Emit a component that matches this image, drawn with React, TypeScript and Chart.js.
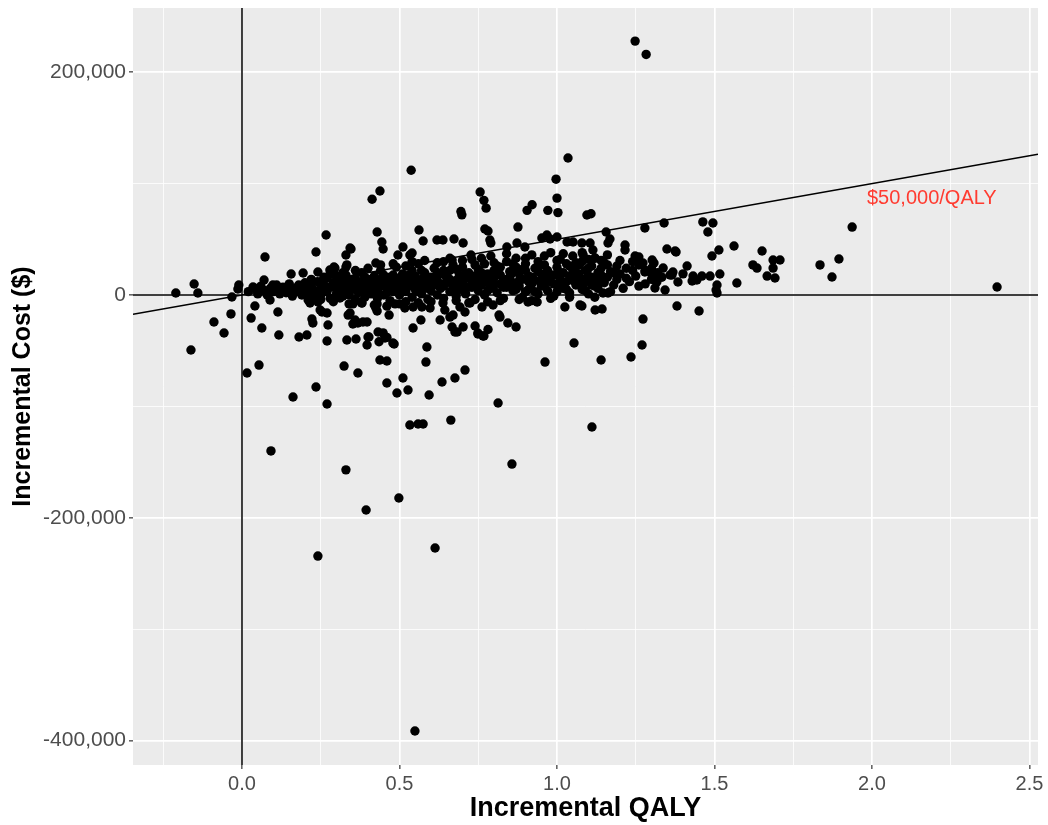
import { useEffect, useRef } from 'react';
import { Chart, registerables } from 'chart.js';

Chart.register(...registerables);

// Axis ranges and ticks
const X_MIN = -0.346;
const X_MAX = 2.527;
const Y_MIN = -422000;
const Y_MAX = 257700;
const xGridTicks = [-0.25, 0, 0.25, 0.5, 0.75, 1, 1.25, 1.5, 1.75, 2, 2.25, 2.5];
const xLabelTicks = [0, 0.5, 1, 1.5, 2, 2.5];
const yGridTicks = [-400000, -300000, -200000, -100000, 0, 100000, 200000];
const yLabelTicks = [-400000, -200000, 0, 200000];

// Willingness-to-pay threshold ($ per QALY) and its label
const WTP = 50000;
const wtpLabelText = '$50,000/QALY';
const wtpLabelQaly = 2.19;
const wtpLabelCost = 87000;

// Simulation draws: [incremental QALY, incremental cost in $1000]
const leftPoints_k: number[][] = [
  [-0.21, 1.8], [-0.152, 9.9], [-0.14, 1.8], [-0.032, -1.8], [-0.01, 9], [-0.013, 5.4],
  [-0.089, -24.2], [-0.057, -34.1], [-0.035, -17], [-0.162, -49.4], [0.041, -9.9],
  [0.029, -20.7], [0.063, -29.6], [0.114, -15.3], [0.073, 34.1], [0.07, 13.5],
  [0.016, -70], [0.054, -62.9], [0.092, -140], [0.117, -35.9], [0.035, 7.2], [0.098, 9],
  [0.089, -4.5],
];

const upperPoints_k: number[][] = [
  [0.156, 18.9], [0.194, 19.8], [0.235, 38.6], [0.267, 53.9], [0.279, 22.4], [0.292, 25.1],
  [0.33, 25.1], [0.33, 35.9], [0.346, 41.3], [0.413, 86], [0.438, 93.4], [0.429, 56.6],
  [0.444, 47.6], [0.448, 41.3], [0.425, 28.7], [0.537, 112], [0.511, 43.1], [0.54, 37.7],
  [0.562, 58.4], [0.575, 48.5], [0.619, 49.4], [0.638, 49.4], [0.673, 50.3], [0.702, 46.7],
  [0.695, 75], [0.698, 72], [0.727, 35.9], [0.667, 31.4], [0.756, 92.5], [0.768, 85],
  [0.775, 78], [0.771, 59.3], [0.781, 57.5], [0.787, 49.4], [0.79, 46.7], [0.841, 43.1],
  [0.873, 46.7], [0.876, 61], [0.898, 43.1], [0.905, 76], [0.921, 81], [0.952, 51.2],
  [0.968, 53.9], [0.971, 76], [0.978, 50.3], [0.997, 104], [1.0, 87], [1.0, 52.1],
  [1.003, 74], [1.035, 123], [1.032, 47.6], [1.051, 47.6], [1.079, 46.7], [1.095, 71.8],
  [1.108, 73], [1.156, 56.6], [1.168, 50.3], [1.162, 46.7], [1.216, 44.9], [1.216, 40.4],
  [1.248, 228], [1.283, 216], [1.279, 60.2], [1.34, 64.7], [1.349, 41.3], [1.378, 38.6],
  [1.083, 36], [1.105, 46.7], [1.114, 40.4], [1.121, 33.2], [1.248, 35], [1.26, 34.1],
  [1.302, 31.4], [1.308, 28.7], [1.337, 24.2], [1.273, 28.7], [0.241, 20.7], [0.295, 24.2],
  [0.333, 27], [0.343, 42.2], [0.495, 35.9], [0.533, 35.9],
];

const rightPoints_k: number[][] = [
  [1.463, 65.6], [1.495, 64.7], [1.479, 56.6], [1.937, 61], [1.562, 44], [1.514, 40.4],
  [1.492, 35], [1.651, 39.5], [1.375, 39.5], [1.413, 26], [1.622, 27], [1.635, 24.2],
  [1.686, 31.4], [1.708, 31.4], [1.686, 24.2], [1.835, 27], [1.895, 32.3], [1.873, 16.2],
  [1.667, 17], [1.692, 15.3], [1.571, 10.8], [1.508, 9], [1.508, 1.8], [1.505, 4.5],
  [1.517, 18.9], [1.486, 17], [1.46, 17], [1.432, 17], [1.444, 13.5], [1.429, 12.6],
  [1.384, 11.7], [1.365, 18], [1.368, 20.7], [2.397, 7.2], [1.381, -9.9], [1.451, -14.4],
  [1.4, 19], [1.317, 11.7], [1.343, 4.5], [1.311, 6.3], [1.279, 20.7], [1.311, 13.5],
  [1.333, 16], [1.359, 18], [1.302, 18],
];

const lowerPoints_k: number[][] = [
  [0.222, -21.6], [0.225, -25.1], [0.273, -26.9], [0.254, -15.3], [0.27, -16.2], [0.241, -6.3],
  [0.216, -7.2], [0.181, -37.7], [0.206, -35.9], [0.27, -41.3], [0.333, -40.4], [0.362, -39.5],
  [0.397, -44.9], [0.403, -37.7], [0.435, -42], [0.448, -34], [0.46, -38], [0.483, -44],
  [0.378, -6.3], [0.337, -18], [0.352, -26], [0.384, -24.2], [0.397, -24.2], [0.429, -14.4],
  [0.467, -18], [0.486, -8], [0.352, -8], [0.429, -8], [0.25, -4], [0.29, -3],
  [0.324, -63.8], [0.368, -70], [0.438, -58.4], [0.46, -59.3], [0.587, -46.7], [0.584, -60.2],
  [0.162, -91.6], [0.235, -82.6], [0.27, -97.9], [0.46, -79], [0.492, -88], [0.511, -74.5],
  [0.527, -85.3], [0.594, -89.8], [0.635, -78.1], [0.676, -74.5], [0.708, -67.4], [0.676, -33.2],
  [0.749, -35], [0.765, -36.8], [0.781, -31], [0.533, -116.7], [0.559, -115.8], [0.575, -115.8],
  [0.663, -112.3], [0.813, -97], [0.962, -60.2], [1.054, -43.1], [1.14, -58.4], [1.235, -55.7],
  [1.27, -44.9], [1.273, -21.6], [1.111, -118.5], [0.857, -151.8], [0.33, -157], [0.498, -182.3],
  [0.394, -193], [0.241, -234.4], [0.613, -227.2], [0.549, -391.5], [1.079, -9.9], [1.121, -13.5],
  [1.143, -12.6], [1.146, 1.8], [1.162, 1.8],
  [0.543, -10.8], [0.571, -10.8], [0.597, -11.7], [0.638, -7.2], [0.644, -13.5], [0.66, -19.8],
  [0.67, -18], [0.692, -10.8], [0.708, -15.3], [0.543, -29.6], [0.568, -22.4], [0.629, -22.4],
  [0.667, -28.7], [0.683, -33.2], [0.702, -28.7], [0.74, -27.8], [0.749, -34.1], [0.768, -36.8],
  [0.816, -18], [0.819, -19.8], [0.844, -25.1], [0.87, -28.7], [0.724, -7.2], [0.762, -10.8],
  [0.797, -9], [0.908, -6.3], [0.937, -6.3], [1.025, -10.8], [1.073, -9], [0.248, -13.5],
  [0.4, -37.7], [0.432, -33.2], [0.454, -38.6], [0.479, -43.1], [0.343, -16.2], [0.359, -22.4],
  [0.368, -25.1], [0.425, -11.7], [0.517, -11.7], [0.381, -7.2], [0.21, -4.5], [0.238, -1.8],
  [0.311, -2.7],
];

const bandPoints_k: number[][] = [
  [0.02, 3], [0.04, 6], [0.05, 1], [0.06, 8], [0.07, 4], [0.08, 0], [0.09, 6], [0.1, 3], [0.11, 9],
  [0.12, 1], [0.12, 5], [0.13, 7], [0.14, 2], [0.15, 4], [0.15, 10], [0.16, -1], [0.17, 6], [0.18, 3],
  [0.18, 9], [0.19, 0], [0.2, 5], [0.2, 11], [0.21, 2], [0.22, 8], [0.23, -2], [0.23, 4], [0.24, 12],
  [0.25, 6], [0.25, 0], [0.26, 9], [0.27, 3], [0.27, 15], [0.28, -3], [0.28, 7], [0.29, 11], [0.3, 1],
  [0.3, 5], [0.31, 14], [0.31, 9], [0.32, -1], [0.32, 3], [0.33, 7], [0.33, 18], [0.34, 12], [0.34, 0],
  [0.35, 5], [0.35, 9], [0.36, 15], [0.36, -4], [0.37, 2], [0.37, 11], [0.38, 7], [0.38, 20], [0.39, 4],
  [0.39, -2], [0.4, 9], [0.4, 14], [0.41, 1], [0.41, 6], [0.42, 17], [0.42, 11], [0.43, -3], [0.43, 4],
  [0.44, 8], [0.44, 22], [0.45, 13], [0.45, 0], [0.46, 6], [0.46, 10], [0.47, 16], [0.47, -5], [0.48, 3],
  [0.48, 12], [0.49, 8], [0.49, 25], [0.5, 0], [0.5, 5], [0.5, 15], [0.51, 10], [0.51, 19], [0.52, -6],
  [0.52, 3], [0.53, 8], [0.53, 13], [0.54, 22], [0.54, -2], [0.55, 5], [0.55, 17], [0.56, 10], [0.56, 28],
  [0.57, 1], [0.57, 14], [0.58, 7], [0.58, 20], [0.59, -4], [0.59, 11], [0.6, 4], [0.6, 16], [0.61, 24],
  [0.61, 9], [0.62, 0], [0.62, 13], [0.63, 6], [0.63, 19], [0.64, 30], [0.64, -3], [0.65, 11], [0.65, 15],
  [0.66, 3], [0.66, 22], [0.67, 8], [0.67, 27], [0.68, 13], [0.68, -1], [0.69, 18], [0.69, 5], [0.7, 10],
  [0.7, 25], [0.71, 15], [0.71, 1], [0.72, 20], [0.72, 7], [0.73, 12], [0.73, 32], [0.74, -4], [0.74, 17],
  [0.75, 4], [0.75, 23], [0.76, 9], [0.76, 14], [0.77, 28], [0.77, 0], [0.78, 19], [0.78, 11], [0.79, 6],
  [0.79, 35], [0.8, 15], [0.8, 22], [0.81, 2], [0.81, 26], [0.82, 10], [0.82, 18], [0.83, -3], [0.83, 13],
  [0.84, 30], [0.84, 7], [0.85, 21], [0.85, 16], [0.86, 4], [0.86, 11], [0.87, 25], [0.87, 33], [0.88, 8],
  [0.88, 19], [0.89, -2], [0.89, 14], [0.9, 28], [0.9, 22], [0.91, 5], [0.91, 17], [0.92, 10], [0.92, 36],
  [0.93, 24], [0.93, 13], [0.94, 1], [0.94, 30], [0.95, 19], [0.95, 8], [0.96, 15], [0.96, 27], [0.97, 4],
  [0.97, 22], [0.98, 12], [0.98, 38], [0.99, 18], [0.99, -1], [1.0, 25], [1.0, 9], [1.01, 14], [1.01, 32],
  [1.02, 20], [1.02, 6], [1.03, 28], [1.03, 12], [1.04, 17], [1.04, 2], [1.05, 23], [1.05, 35], [1.06, 9],
  [1.06, 15], [1.07, 27], [1.07, 19], [1.08, 5], [1.08, 30], [1.09, 12], [1.09, 22], [1.1, 17], [1.1, 1],
  [1.11, 26], [1.11, 9], [1.12, 14], [1.12, 33], [1.13, 20], [1.13, 6], [1.14, 24], [1.15, 11], [1.15, 29],
  [1.16, 16], [1.17, 3], [1.17, 21], [1.18, 9], [1.19, 26], [1.19, 14], [1.2, 19], [1.21, 6], [1.22, 24],
  [1.23, 12], [1.24, 30], [1.25, 17], [1.26, 8], [1.28, 22], [1.3, 14],
  [0.3, 8], [0.32, 12], [0.34, 4], [0.36, 8], [0.38, 12], [0.4, 2], [0.42, 6], [0.44, 14], [0.46, 2],
  [0.48, 18], [0.5, 10], [0.52, 14], [0.54, 9], [0.56, 3], [0.58, 13], [0.6, 10], [0.62, 20], [0.64, 8],
  [0.66, 14], [0.68, 23], [0.7, 5], [0.72, 15], [0.74, 10], [0.76, 20], [0.78, 4], [0.8, 9], [0.82, 25],
  [0.84, 14], [0.86, 20], [0.88, 13], [0.9, 3], [0.92, 16], [0.94, 21], [0.96, 9], [0.98, 17], [1.0, 3],
  [1.02, 11], [1.04, 26], [1.06, 20], [1.08, 14], [1.1, 24], [1.12, 8], [1.14, 18], [1.16, 27],
  [0.31, 2], [0.33, 10], [0.35, 14], [0.37, 6], [0.39, 16], [0.41, 12], [0.43, 9], [0.45, 18], [0.47, 7],
  [0.49, 13], [0.51, 4], [0.53, 18], [0.55, 12], [0.57, 22], [0.59, 6], [0.61, 13], [0.63, 10], [0.65, 20],
  [0.67, 3], [0.69, 11], [0.71, 19], [0.73, 7], [0.75, 13], [0.77, 17], [0.79, 12], [0.81, 20], [0.83, 7],
  [0.85, 10], [0.87, 5], [0.89, 23], [0.91, 12], [0.93, 3], [0.95, 13], [0.97, 15], [0.99, 10], [1.01, 20],
  [1.03, 5], [1.05, 13], [1.07, 10], [1.09, 4], [1.11, 16], [1.13, 12],
  [0.22, 14], [0.24, -4], [0.26, 16], [0.28, 19], [0.29, -6], [0.3, 17], [0.32, 20], [0.34, -8],
  [0.36, 22], [0.38, -7], [0.4, 24], [0.42, -9], [0.44, 27], [0.46, -10], [0.48, 28], [0.5, -8],
  [0.52, 26], [0.54, 30], [0.56, -7], [0.58, 31], [0.6, -6], [0.62, 29], [0.64, 22], [0.66, 33],
  [0.68, -5], [0.7, 31], [0.72, -7], [0.74, 27], [0.76, 33], [0.78, -6], [0.8, 29], [0.82, -5],
  [0.84, 37], [0.86, 28], [0.88, -4], [0.9, 33], [0.92, -5], [0.94, 26], [0.96, 35], [0.98, -3],
  [1.0, 31], [1.02, 37], [1.04, -2], [1.06, 29], [1.08, 38], [1.1, 32], [1.12, -2], [1.14, 31],
  [1.16, 36], [1.18, 20], [1.2, 31], [1.22, 15], [1.24, 22], [1.26, 27], [1.28, 10], [1.3, 24],
  [1.32, 20],
];

const FONT = '"Liberation Sans", Arial, Helvetica, sans-serif';

const near = (v: number, arr: number[]) => arr.some((m) => Math.abs(m - v) < 1e-9);

const cePlanePlugin = {
  id: 'cePlane',
  beforeDraw(chart: any) {
    const { ctx, chartArea } = chart;
    ctx.save();
    ctx.fillStyle = '#EBEBEB';
    ctx.fillRect(chartArea.left, chartArea.top, chartArea.right - chartArea.left, chartArea.bottom - chartArea.top);
    ctx.restore();
  },
  beforeDatasetsDraw(chart: any) {
    const { ctx, chartArea } = chart;
    const xs = chart.scales.x;
    const ys = chart.scales.y;
    ctx.save();
    ctx.beginPath();
    ctx.rect(chartArea.left, chartArea.top, chartArea.right - chartArea.left, chartArea.bottom - chartArea.top);
    ctx.clip();
    ctx.strokeStyle = '#000000';
    ctx.lineWidth = 1.5;
    ctx.beginPath();
    const x0 = xs.getPixelForValue(0);
    ctx.moveTo(x0, chartArea.top);
    ctx.lineTo(x0, chartArea.bottom);
    const y0 = ys.getPixelForValue(0);
    ctx.moveTo(chartArea.left, y0);
    ctx.lineTo(chartArea.right, y0);
    ctx.moveTo(xs.getPixelForValue(xs.min), ys.getPixelForValue(WTP * xs.min));
    ctx.lineTo(xs.getPixelForValue(xs.max), ys.getPixelForValue(WTP * xs.max));
    ctx.stroke();
    ctx.restore();
  },
  afterDatasetsDraw(chart: any) {
    const { ctx } = chart;
    const xs = chart.scales.x;
    const ys = chart.scales.y;
    ctx.save();
    ctx.fillStyle = '#FF3B30';
    ctx.font = `20px ${FONT}`;
    ctx.textAlign = 'center';
    ctx.textBaseline = 'middle';
    ctx.fillText(wtpLabelText, xs.getPixelForValue(wtpLabelQaly), ys.getPixelForValue(wtpLabelCost));
    ctx.restore();
  },
};

export default function App() {
  const canvasRef = useRef<HTMLCanvasElement | null>(null);

  useEffect(() => {
    if (!canvasRef.current) return;
    const all = [...leftPoints_k, ...bandPoints_k, ...upperPoints_k, ...lowerPoints_k, ...rightPoints_k];
    const data = all.map(([q, c]) => ({ x: q, y: c * 1000 }));
    const chart = new Chart(canvasRef.current, {
      type: 'scatter',
      data: {
        datasets: [
          {
            data,
            backgroundColor: '#000000',
            borderWidth: 0,
            pointRadius: 4.7,
            pointHoverRadius: 4.7,
          },
        ],
      },
      plugins: [cePlanePlugin],
      options: {
        animation: false,
        responsive: false,
        devicePixelRatio: 1,
        layout: { padding: { left: 0, right: 10, top: 8, bottom: 0 } },
        plugins: { legend: { display: false }, tooltip: { enabled: false } },
        scales: {
          x: {
            type: 'linear',
            min: X_MIN,
            max: X_MAX,
            afterBuildTicks: (s: any) => {
              s.ticks = xGridTicks.map((v) => ({ value: v }));
            },
            afterFit: (s: any) => {
              s.height = 60;
              s.paddingLeft = 0;
              s.paddingRight = 0;
            },
            border: { display: false },
            grid: {
              color: '#FFFFFF',
              lineWidth: (c: any) => (c.tick && near(c.tick.value, xLabelTicks) ? 1.7 : 0.8),
              drawTicks: true,
              tickLength: 4,
              tickWidth: 1.2,
              tickColor: (c: any) => (c.tick && near(c.tick.value, xLabelTicks) ? '#333333' : 'rgba(0,0,0,0)'),
            },
            ticks: {
              autoSkip: false,
              maxRotation: 0,
              padding: 3,
              color: '#4D4D4D',
              font: { family: FONT, size: 20 },
              callback: (v: any) => (near(Number(v), xLabelTicks) ? Number(v).toFixed(1) : ''),
            },
            title: {
              display: true,
              text: 'Incremental QALY',
              color: '#000000',
              font: { family: FONT, size: 27, weight: 'bold' },
              padding: { top: 0, bottom: 0 },
            },
          },
          y: {
            type: 'linear',
            min: Y_MIN,
            max: Y_MAX,
            afterBuildTicks: (s: any) => {
              s.ticks = yGridTicks.map((v) => ({ value: v }));
            },
            afterFit: (s: any) => {
              s.width = 133;
              s.paddingTop = 0;
              s.paddingBottom = 0;
            },
            border: { display: false },
            grid: {
              color: '#FFFFFF',
              lineWidth: (c: any) => (c.tick && near(c.tick.value, yLabelTicks) ? 1.7 : 0.8),
              drawTicks: true,
              tickLength: 4,
              tickWidth: 1.2,
              tickColor: (c: any) => (c.tick && near(c.tick.value, yLabelTicks) ? '#333333' : 'rgba(0,0,0,0)'),
            },
            ticks: {
              autoSkip: false,
              padding: 3,
              color: '#4D4D4D',
              font: { family: FONT, size: 21 },
              callback: (v: any) => (near(Number(v), yLabelTicks) ? Number(v).toLocaleString('en-US') : ''),
            },
            title: {
              display: true,
              text: 'Incremental Cost ($)',
              color: '#000000',
              font: { family: FONT, size: 25, weight: 'bold' },
              padding: { top: 8, bottom: 0 },
            },
          },
        },
      },
    });
    return () => chart.destroy();
  }, []);

  return (
    <div style={{ position: 'fixed', left: 0, top: 0, width: 1048, height: 825, background: '#FFFFFF' }}>
      <canvas ref={canvasRef} width={1048} height={825} style={{ display: 'block', width: 1048, height: 825 }} />
    </div>
  );
}
